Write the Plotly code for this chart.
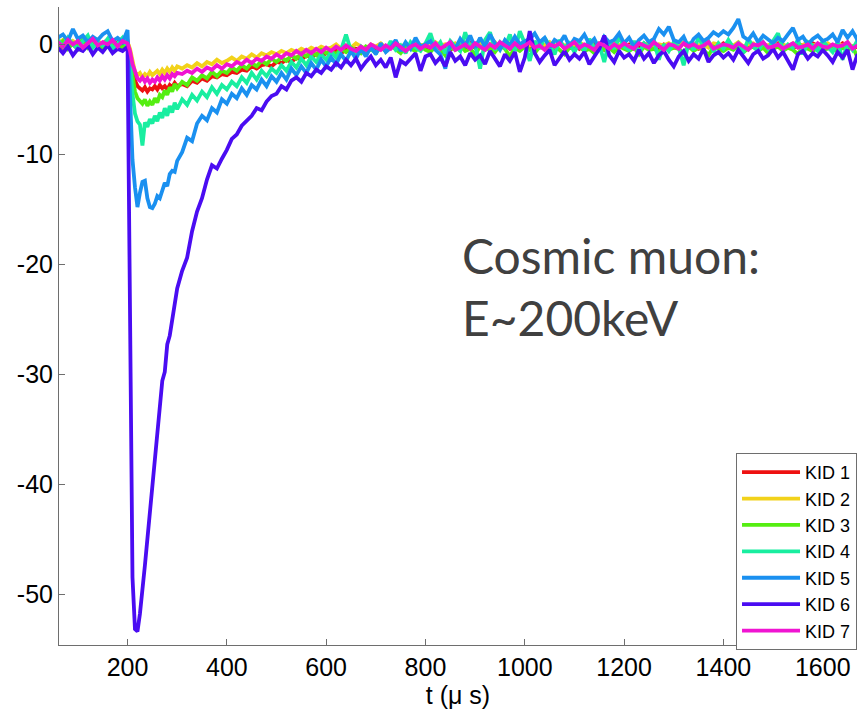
import plotly.graph_objects as go

# Sample times (microseconds): 10 us before the pulse, 5 us across the pulse, 10 us afterwards
t_us = list(range(60, 201, 10)) + list(range(205, 301, 5)) + list(range(310, 1701, 10))

kid_names = ["KID 1", "KID 2", "KID 3", "KID 4", "KID 5", "KID 6", "KID 7"]
kid_colors = ["#ee1111", "#f2d21a", "#55ee11", "#19eea0", "#1a90f0", "#4a0cf2", "#f014d2"]

kid1 = [
    0.2, -0.3, 0.4, 0.0, -0.4, 0.3, -0.1, 0.5, -0.2, 0.1,
    0.4, -0.3, 0.2, -0.1, 0.3,
    -0.8, -2.4, -3.3, -3.8, -4.0, -4.2, -3.9, -4.3, -4.0, -4.1,
    -3.8, -4.1, -3.7, -4.0, -3.8, -4.1, -3.7, -3.9, -3.5, -3.8,
    -3.6, -3.8, -3.3, -3.5, -3.1, -3.3, -2.9, -3.0, -2.7, -2.8,
    -2.5, -2.6, -2.3, -2.4, -2.0, -2.2, -1.9, -1.8, -2.0, -1.6,
    -1.7, -1.4, -1.6, -1.2, -1.4, -1.0, -1.2, -0.9, -1.1, -0.8,
    -0.9, -0.6, -0.8, -0.5, -0.7, -0.4, -0.6, -0.3, -0.5, -0.4,
    -0.2, -0.5, -0.3, -0.1, -0.4, -0.2, 0.0, -0.3, -0.1, -0.2,
    -0.4, 0.1, -0.3, -0.1, -0.5, 0.0, -0.2, -0.4, 0.1, -0.3,
    -0.1, -0.4, 0.0, -0.3, -0.2, 0.1, -0.4, -0.1, -0.3, 0.0,
    -0.2, -0.5, 0.0, -0.3, -0.1, -0.4, 0.1, -0.2, -0.3, 0.0,
    -0.4, -0.1, -0.3, 0.1, -0.2, -0.5, 0.0, -0.3, -0.1, -0.2,
    0.0, -0.4, -0.2, 0.1, -0.3, -0.1, -0.4, 0.0, -0.2, -0.3,
    -0.1, 0.1, -0.3, -0.2, -0.4, 0.0, -0.2, -0.1, -0.3, 0.1,
    -0.2, -0.4, 0.0, -0.3, -0.1, -0.2, -0.5, 0.0, -0.3, -0.1,
    0.1, -0.3, -0.2, -0.4, 0.0, -0.1, -0.3, 0.1, -0.2, -0.4,
    0.0, -0.2, -0.3, 0.1, -0.1, -0.4, -0.2, 0.0, -0.3, -0.1,
]

kid2 = [
    0.1, 0.4, -0.2, 0.3, 0.0, 0.5, -0.1, 0.2, 0.4, -0.2,
    0.3, 0.1, -0.1, 0.4, 0.2,
    -0.4, -1.6, -2.5, -2.8, -2.6, -3.0, -2.7, -2.9, -2.5, -2.8,
    -2.6, -2.4, -2.7, -2.3, -2.6, -2.2, -2.5, -2.1, -2.4, -2.0,
    -2.2, -1.9, -2.1, -1.7, -2.0, -1.6, -1.8, -1.4, -1.7, -1.5,
    -1.2, -1.5, -1.1, -1.3, -0.9, -1.2, -0.8, -1.0, -0.7, -0.9,
    -0.6, -0.8, -0.5, -0.7, -0.4, -0.6, -0.3, -0.5, -0.2, -0.4,
    -0.3, 0.0, -0.4, -0.1, -0.3, 0.1, -0.2, -0.4, 0.0, -0.2,
    0.1, -0.3, -0.1, 0.2, -0.2, 0.0, -0.3, 0.1, -0.1, 0.0,
    -0.2, 0.2, -0.1, 0.0, -0.3, 0.1, -0.2, 0.2, 0.0, -0.1,
    0.1, -0.2, 0.0, 0.2, -0.3, -0.1, 0.1, -0.2, 0.0, 0.2,
    -0.1, 0.1, -0.3, 0.0, 0.2, -0.2, 0.1, -0.1, 0.0, -0.2,
    0.2, -0.1, 0.0, -0.3, 0.1, -0.2, 0.0, 0.2, -0.1, 0.1,
    -0.2, 0.0, 0.1, -0.1, 0.2, -0.3, 0.0, -0.1, 0.1, -0.2,
    0.0, 0.2, -0.2, 0.1, -0.1, 0.0, -0.3, 0.1, 0.0, -0.2,
    0.1, -0.1, 0.2, -0.2, 0.0, 0.1, -0.3, 0.0, -0.1, 0.2,
    -0.1, 0.0, -0.2, 0.1, -0.3, 0.0, 0.2, -0.1, 0.0, -0.2,
    0.1, -0.2, 0.0, -0.1, 0.2, -0.3, 0.0, 0.1, -0.2, 0.0,
]

kid3 = [
    -0.2, 0.3, -0.4, 0.1, -0.1, 0.4, -0.3, 0.2, 0.0, -0.5,
    0.3, -0.2, 0.1, -0.3, 0.2,
    -1.2, -3.0, -4.3, -4.9, -5.1, -5.4, -5.0, -5.6, -5.2, -5.5,
    -4.9, -5.3, -4.6, -4.8, -4.2, -4.6, -3.9, -4.3, -3.6, -4.0,
    -3.4, -3.7, -3.0, -3.3, -2.8, -3.1, -2.5, -2.9, -2.4, -2.6,
    -2.1, -2.4, -1.9, -2.2, -1.7, -2.0, -1.5, -1.8, -1.3, -1.6,
    -1.2, -1.5, -1.0, -1.3, -0.8, -1.1, -0.7, -1.0, -0.5, -0.8,
    -0.6, -0.9, -0.4, -0.7, -0.3, -0.6, -0.8, -0.2, -0.5, -0.7,
    -0.3, -0.6, -0.1, -0.5, -0.8, -0.2, -0.4, -0.6, -0.1, -0.5,
    -0.7, -0.2, -0.4, -1.0, -0.3, -0.5, -0.1, -0.6, -0.4, -0.9,
    -0.2, -0.5, -0.3, -0.7, -0.1, -0.4, -1.1, -0.3, -0.6, -0.2,
    -0.5, -0.8, -0.2, -0.4, -0.6, -0.1, -0.5, -0.9, -0.3, -0.4,
    -0.2, -0.6, -0.4, -0.8, -0.1, -0.5, -0.3, -0.7, -0.2, -0.4,
    -0.6, -0.3, -0.9, -0.2, -0.5, -0.4, -0.7, -0.1, -0.5, -0.3,
    -0.4, -0.8, -0.2, -0.6, -0.3, -0.5, -1.0, -0.2, -0.4, -0.6,
    -0.3, -0.5, -0.1, -0.7, -0.4, -0.2, -0.6, -0.3, -0.8, -0.4,
    -0.2, -0.6, -0.3, -0.5, -0.9, -0.2, -0.4, -0.6, -0.3, -0.5,
    -0.4, -0.1, -0.7, -0.3, -0.5, -0.2, -1.2, -0.4, -0.6, -0.3,
]

kid4 = [
    0.4, -0.2, 0.6, 0.0, -0.4, 0.3, 0.8, -0.3, 0.2, -0.1,
    0.5, -0.4, 0.1, 0.6, -0.2,
    -1.5, -4.5, -6.3, -7.0, -7.3, -9.2, -7.1, -7.5, -6.8, -7.2,
    -6.5, -7.0, -6.2, -6.7, -5.8, -6.5, -5.6, -6.2, -5.3, -5.9,
    -5.0, -5.5, -4.6, -5.1, -4.3, -4.8, -3.9, -4.5, -3.7, -4.1,
    -3.4, -3.8, -3.0, -3.5, -2.6, -3.2, -2.4, -2.9, -2.2, -2.6,
    -1.9, -2.4, -1.6, -2.1, -1.3, -1.9, -1.1, -1.6, -0.9, -1.4,
    -0.7, -1.2, -0.5, 0.9, -0.6, -0.9, -0.2, -0.7, -0.4, -0.8,
    -0.2, -0.6, 0.3, -0.5, -0.1, -0.8, 0.2, -0.3, -0.6, 0.1,
    1.0, -0.4, 0.2, -0.8, 0.3, -0.2, -0.6, 1.1, -0.3, 0.0,
    -2.2, 0.4, 1.1, -0.5, 0.2, -0.3, 0.9, -0.6, 1.2, 0.1,
    -1.5, 0.3, -0.4, 0.6, -0.2, -0.9, 0.4, -0.3, 0.1, -0.7,
    0.2, -0.6, 0.5, -0.3, 0.0, -1.6, 0.3, -0.4, 0.6, -0.2,
    -0.5, 0.3, -0.8, 0.1, -0.3, 0.4, -1.4, 0.0, -0.6, 0.2,
    -0.3, -1.9, 0.2, -0.5, 0.6, -0.2, 0.3, -0.7, 0.1, -0.4,
    0.4, -0.3, 0.1, -0.8, 0.5, -0.2, -0.6, 0.2, -0.4, 0.3,
    1.0, -0.5, 0.0, -0.3, 0.4, -0.9, 0.2, -0.1, -0.6, 0.3,
    -0.2, -0.7, 0.2, -1.4, 0.1, -0.5, 0.4, -0.3, 0.0, -0.6,
]

kid5 = [
    0.6, 0.9, 0.3, 1.4, 0.5, 0.8, 0.2, 0.7, 0.4, 0.9,
    1.2, 0.3, 0.6, 0.2, 1.3,
    -4.0, -10.5, -13.0, -14.8, -13.5, -12.5, -12.4, -14.0, -14.8, -14.9,
    -14.5, -13.8, -14.0, -13.2, -12.6, -12.9, -11.8, -11.5, -11.6, -10.6,
    -9.8, -8.5, -8.8, -7.2, -6.5, -6.9, -5.8, -6.2, -5.0, -5.4,
    -4.5, -4.9, -4.0, -4.6, -3.7, -4.1, -3.2, -3.8, -2.9, -3.4,
    -2.6, -3.2, -2.2, -2.8, -2.0, -2.6, -1.7, -2.3, -1.4, -2.0,
    -1.2, -1.8, -0.9, -1.5, -0.6, -1.3, -0.4, -1.1, -0.2, -0.9,
    0.1, -0.7, -0.3, 0.4, -0.6, 0.2, -0.4, 0.6, -0.2, 0.0,
    0.3, -0.5, -0.9, -2.2, 0.1, -0.4, 0.5, -0.1, 0.8, -0.3,
    0.6, -0.2, 0.9, 0.1, -0.5, 0.4, -0.1, 0.7, 0.0, 0.3,
    0.5, 1.0, 0.2, 0.6, -0.3, 0.4, 0.1, 0.8, -0.2, 0.5,
    0.3, 0.9, 0.0, 0.5, -0.4, 0.7, 0.2, 0.4, 1.0, 0.1,
    0.6, -0.2, 0.4, 0.8, 0.2, 0.5, 1.4, 0.9, 1.6, 0.4,
    0.2, 0.7, -0.3, 0.5, 0.9, 0.3, 0.6, 1.1, 0.8, 1.2,
    0.9, 1.5, 2.3, 0.7, 0.4, 1.0, 0.2, 0.8, 0.5, 0.1,
    0.6, 0.3, 0.9, 1.5, 0.4, 0.7, 0.0, 0.5, 0.8, 0.3,
    0.5, 0.9, 0.2, 1.3, 0.6, 1.2, 0.4, 0.7, 0.1, 0.5,
]

kid6 = [
    -0.3, -0.8, -0.2, -1.0, -0.4, -0.6, -0.1, -0.9, -0.3, -0.7,
    -0.1, -0.8, -0.4, -0.6, -0.2,
    -24.0, -48.5, -53.2, -53.4, -51.8, -49.9, -47.4, -45.0, -42.6, -39.5,
    -37.8, -35.6, -32.4, -30.6, -29.8, -27.3, -26.5, -24.9, -23.7, -22.2,
    -20.6, -19.4, -17.0, -15.2, -14.0, -12.3, -11.0, -11.3, -10.4, -9.6,
    -8.6, -8.2, -7.4, -6.9, -6.5, -5.8, -6.0, -5.2, -4.7, -4.5,
    -3.8, -4.1, -3.3, -3.0, -3.4, -2.6, -2.9, -2.3, -2.6, -2.0,
    -2.3, -1.7, -2.1, -1.4, -1.9, -1.3, -2.2, -1.6, -1.1, -1.9,
    -1.4, -2.1, -1.2, -3.0, -1.5, -1.8, -1.3, -0.8, -2.4, -1.1,
    -0.9, -1.7, -1.2, -2.0, -0.7, -1.5, -1.1, -1.9, -0.8, -1.4,
    -1.0, -1.8, -0.6, -1.3, -2.0, -0.9, -1.5, -0.7, -2.5, -1.2,
    1.2, -0.8, -1.6, -1.0, -0.5, -1.9, -1.2, -0.6, -1.4, -0.9,
    -1.3, -0.7, -1.8, -1.1, -0.4, 0.8, -1.0, -1.6, -0.6, -1.2,
    -0.9, -1.5, -0.5, -1.3, -0.8, -1.7, -1.0, -0.6, -1.4, -2.0,
    -1.1, -0.6, -1.5, -0.9, -1.3, -0.4, -1.6, -1.0, -0.7, -1.2,
    -0.8, -1.4, -0.5, -1.1, -1.7, -0.9, -0.6, -1.3, -1.0, -0.4,
    -1.2, -0.7, -1.5, -2.3, -0.9, -0.6, -1.3, -0.8, -1.1, -0.5,
    -1.0, -1.6, -0.7, -1.2, -0.5, -2.3, -0.9, -1.4, -0.6, -1.1,
]

kid7 = [
    0.2, -0.2, 0.4, 0.0, 0.3, -0.3, 0.1, 0.5, -0.1, 0.2,
    0.0, 0.4, -0.2, 0.3, 0.1,
    -0.6, -1.8, -2.6, -3.1, -3.3, -3.0, -3.4, -3.1, -3.5, -3.2,
    -3.4, -3.0, -3.3, -2.9, -3.2, -2.8, -3.1, -2.7, -2.9, -2.6,
    -2.7, -2.4, -2.6, -2.2, -2.5, -2.1, -2.3, -1.9, -2.2, -1.8,
    -2.0, -1.6, -1.8, -1.4, -1.7, -1.3, -1.5, -1.1, -1.3, -0.9,
    -1.2, -0.8, -1.0, -0.6, -0.9, -0.5, -0.8, -0.4, -0.7, -0.3,
    -0.6, -0.2, -0.5, -0.1, -0.4, -0.6, -0.2, -0.5, 0.0, -0.3,
    -0.5, -0.1, -0.4, 0.1, -0.3, -0.6, -0.2, 0.0, -0.4, -0.1,
    -0.3, 0.1, -0.4, -0.1, 0.2, -0.5, -0.2, 0.0, -0.4, 0.1,
    -0.2, -0.5, 0.0, -0.3, 0.2, -0.1, -0.4, 0.1, -0.3, -0.1,
    0.2, -0.3, -0.1, -0.5, 0.0, -0.2, 0.1, -0.4, -0.1, 0.2,
    -0.3, 0.0, -0.2, -0.5, 0.1, -0.1, -0.4, 0.0, -0.3, 0.1,
    -0.2, -0.4, 0.1, -0.1, -0.3, 0.2, -0.2, -0.5, 0.0, -0.1,
    -0.4, 0.1, -0.2, 0.0, -0.3, -0.1, 0.2, -0.4, -0.2, 0.0,
    -0.1, -0.3, 0.1, -0.2, -0.5, 0.0, -0.1, 0.2, -0.3, -0.2,
    0.0, -0.4, -0.1, 0.1, -0.3, -0.2, 0.0, -0.4, 0.1, -0.2,
    -0.3, 0.0, -0.2, -0.1, 0.2, -0.4, -0.1, 0.0, -0.3, -0.1,
]

x_ticks = [200, 400, 600, 800, 1000, 1200, 1400, 1600]
y_ticks = [0, -10, -20, -30, -40, -50]

series = [kid1, kid2, kid3, kid4, kid5, kid6, kid7]
for name, s in zip(kid_names, series):
    if len(s) != len(t_us):
        raise SystemExit(f"{name}: {len(s)} values for {len(t_us)} times")

fig = go.Figure()
for name, color, s in zip(kid_names, kid_colors, series):
    fig.add_trace(go.Scatter(
        x=t_us, y=s, name=name, mode="lines",
        line=dict(color=color, width=3.8),
    ))

tick_font = dict(family="Liberation Sans, Arial, sans-serif", size=25, color="#000000")

fig.update_layout(
    width=857, height=715,
    margin=dict(l=59, r=0, t=7, b=70, autoexpand=False),
    paper_bgcolor="white", plot_bgcolor="white",
    showlegend=True,
    legend=dict(
        x=0.8484, y=0.301, xanchor="left", yanchor="top",
        bgcolor="white", bordercolor="#6e6e6e", borderwidth=1,
        font=dict(family="Liberation Sans, Arial, sans-serif", size=18, color="#000000"),
        itemwidth=58, tracegroupgap=0,
    ),
    xaxis=dict(
        range=[62, 1669], tickvals=x_ticks, ticktext=[str(v) for v in x_ticks],
        ticks="inside", ticklen=6, tickcolor="#6e6e6e",
        showline=True, linecolor="#6e6e6e", linewidth=1,
        showgrid=False, zeroline=False, tickfont=tick_font,
        ticklabelstandoff=0,
        title=dict(text="t (\u03bc s)", font=tick_font, standoff=0),
    ),
    yaxis=dict(
        range=[-54.64, 3.4], tickvals=y_ticks, ticktext=[str(v) for v in y_ticks],
        ticks="inside", ticklen=6, tickcolor="#6e6e6e",
        showline=True, linecolor="#6e6e6e", linewidth=1,
        showgrid=False, zeroline=False, tickfont=tick_font,
        ticklabelstandoff=0,
    ),
    annotations=[dict(
        x=870, y=-16.4, xref="x", yref="y", xanchor="left", yanchor="top",
        text="Cosmic muon:<br>E~200keV", showarrow=False, align="left",
        font=dict(family="Lato, Noto Sans, sans-serif", size=48, color="#404040"),
    )],
)

fig.write_html("out.html")
